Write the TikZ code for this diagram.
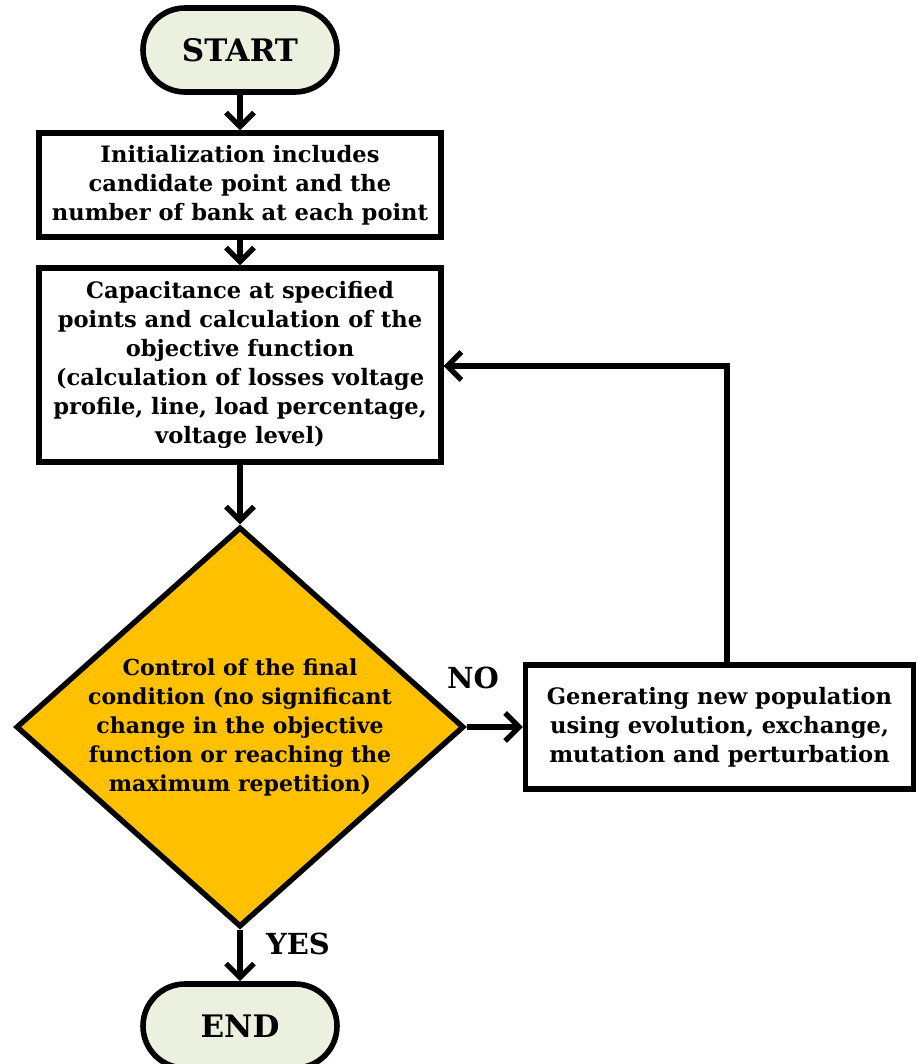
\documentclass[tikz,border=0pt]{standalone}
\usepackage{fontspec}
\setmainfont{DejaVu Serif}
\usepackage{tikz}
\usetikzlibrary{shapes.geometric,arrows.meta,positioning,calc}
\definecolor{termgreen}{RGB}{235,241,222}
\definecolor{decgold}{RGB}{255,192,0}

\tikzset{
  terminal/.style={draw, fill=termgreen, line width=2.8pt, rounded corners=21pt, minimum width=97pt, minimum height=42pt, font=\fontsize{15.5}{18}\selectfont\bfseries},
  procbox/.style={draw, fill=white, line width=2.7pt, align=center, inner sep=2pt, font=\fontsize{11.3}{14.5}\selectfont\bfseries},
  decision/.style={diamond, draw, fill=decgold, line width=2.7pt, align=center, aspect=1.12, inner sep=-5pt, font=\fontsize{11}{14.5}\selectfont\bfseries},
  flow/.style={line width=2.7pt, -{Straight Barb[length=7pt,width=14pt,line width=2.6pt]}},
  tag/.style={font=\fontsize{14.5}{17}\selectfont\bfseries}
}

\begin{document}
\begin{tikzpicture}[x=0.5pt,y=-0.5pt]
\useasboundingbox (0,0) rectangle (917,1064);

\node[terminal] (start) at (240,50) {START};
\node[procbox, minimum width=201pt, minimum height=52pt] (init) at (240,185)
  {Initialization includes\\candidate point and the\\number of bank at each point};
\node[procbox, minimum width=201pt, minimum height=97pt] (calc) at (240,365)
  {Capacitance at specified\\points and calculation of the\\objective function\\(calculation of losses voltage\\profile, line, load percentage,\\voltage level)};
\node[decision, minimum width=224pt, minimum height=200pt] (ctrl) at (240,727)
  {Control of the final\\condition (no significant\\change in the objective\\function or reaching the\\maximum repetition)};
\node[procbox, minimum width=194pt, minimum height=62pt] (gen) at (719.5,727)
  {Generating new population\\using evolution, exchange,\\mutation and perturbation};
\node[terminal] (end) at (240,1026) {END};

\draw[flow] (start) -- (init);
\draw[flow] (init) -- (calc);
\draw[flow] (calc) -- (ctrl);
\draw[flow] (ctrl.east) -- (gen.west);
\draw[flow] (ctrl.south) -- (end);
\draw[flow] (gen.north -| 727,0) |- (calc.east |- 0,366);

\node[tag] (no) at (473,678) {NO};
\node[tag] (yes) at (298,944) {YES};
\end{tikzpicture}
\end{document}
